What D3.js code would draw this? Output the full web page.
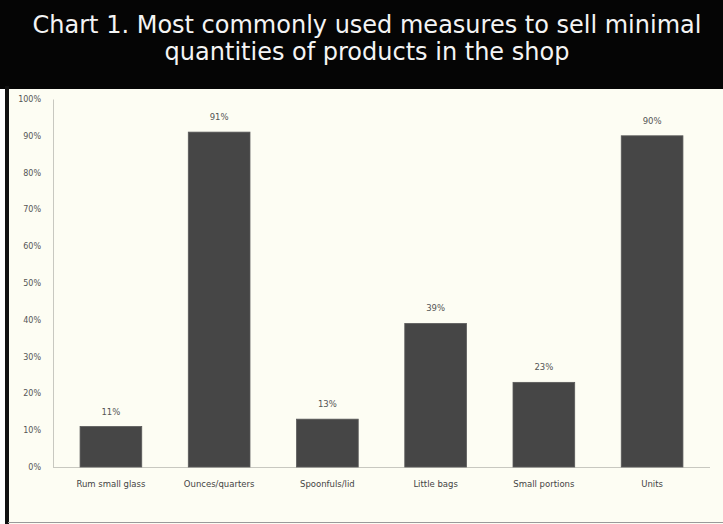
<!DOCTYPE html>
<html>
<head>
<meta charset="utf-8">
<script src="https://cdn.jsdelivr.net/npm/d3@7"></script>
<style>
  body { margin: 0; background: #fff; }
  svg { display: block; }
</style>
</head>
<body>
<svg id="chart" width="723" height="524"></svg>
<script>
// data
const categories = ['Rum small glass', 'Ounces/quarters', 'Spoonfuls/lid', 'Little bags', 'Small portions', 'Units'];
const values = [11, 91, 13, 39, 23, 90];
const yTicks = [0, 10, 20, 30, 40, 50, 60, 70, 80, 90, 100];
const titleLines = ['Chart 1. Most commonly used measures to sell minimal', 'quantities of products in the shop'];

const svg = d3.select('#chart');
const W = 723, H = 524;

// background pieces
svg.append('rect')
    .attr('x', 0).attr('y', 0)
    .attr('width', W).attr('height', H)
    .attr('fill', '#ffffff');

svg.append('rect')
    .attr('x', 8).attr('y', 86)
    .attr('width', W - 8).attr('height', H - 86)
    .attr('fill', '#fdfdf3');

// header
svg.append('rect')
    .attr('x', 0).attr('y', 0)
    .attr('width', W).attr('height', 89)
    .attr('fill', '#050505');

svg.append('g')
    .selectAll('text')
    .data(titleLines)
    .join('text')
    .attr('x', 367)
    .attr('y', (d, i) => 33 + i * 27)
    .attr('text-anchor', 'middle')
    .attr('fill', '#f4f4f4')
    .style('font-family', '"DejaVu Sans", Verdana, sans-serif')
    .style('font-size', '24px')
    .text(d => d);

// left black frame & bottom line
svg.append('rect')
    .attr('x', 5).attr('y', 86)
    .attr('width', 4).attr('height', H - 86)
    .attr('fill', '#111');

svg.append('line')
    .attr('x1', 8).attr('x2', W)
    .attr('y1', 522.5).attr('y2', 522.5)
    .attr('stroke', '#9a9a9a')
    .attr('stroke-width', 1);

// scales
const x = d3.scaleBand()
    .domain(categories)
    .range([53, 710])
    .paddingInner(0.43)
    .paddingOuter(0.25);

const y = d3.scaleLinear()
    .domain([0, 100])
    .range([467, 99]);

// y axis
const yAxis = d3.axisLeft(y)
    .tickValues(yTicks)
    .tickFormat(d => d + '%')
    .tickSize(0)
    .tickPadding(12);

const gy = svg.append('g')
    .attr('transform', 'translate(53,0)')
    .call(yAxis);
gy.select('.domain').attr('stroke', '#c8c8c0');
gy.selectAll('text')
    .attr('fill', '#555')
    .style('font-family', 'Verdana, "DejaVu Sans", sans-serif')
    .style('font-size', '8px');

// baseline
svg.append('line')
    .attr('x1', 53).attr('x2', 710)
    .attr('y1', y(0) + 0.5).attr('y2', y(0) + 0.5)
    .attr('stroke', '#c8c8c0');

// bars
svg.append('g')
    .selectAll('rect')
    .data(values)
    .join('rect')
    .attr('x', (d, i) => x(categories[i]))
    .attr('y', d => y(d))
    .attr('width', x.bandwidth())
    .attr('height', d => y(0) - y(d))
    .attr('fill', '#464646')
    .attr('stroke', '#5a5a5a')
    .attr('stroke-width', 0.8);

// value labels
svg.append('g')
    .selectAll('text')
    .data(values)
    .join('text')
    .attr('x', (d, i) => x(categories[i]) + x.bandwidth() / 2)
    .attr('y', d => y(d) - 12)
    .attr('text-anchor', 'middle')
    .attr('fill', '#555')
    .style('font-family', 'Verdana, "DejaVu Sans", sans-serif')
    .style('font-size', '8.5px')
    .text(d => d + '%');

// category labels
svg.append('g')
    .selectAll('text')
    .data(categories)
    .join('text')
    .attr('x', d => x(d) + x.bandwidth() / 2)
    .attr('y', 487)
    .attr('text-anchor', 'middle')
    .attr('fill', '#444')
    .style('font-family', 'Verdana, "DejaVu Sans", sans-serif')
    .style('font-size', '8.5px')
    .text(d => d);
</script>
</body>
</html>
